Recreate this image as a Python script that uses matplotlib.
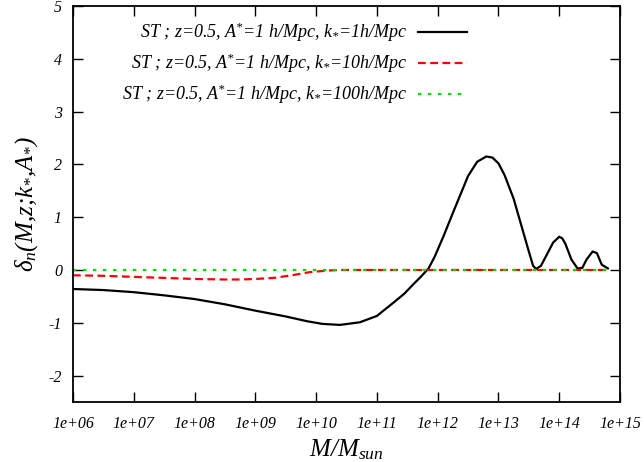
import numpy as np
import matplotlib
matplotlib.use("Agg")
import matplotlib.pyplot as plt
from matplotlib.ticker import FixedLocator, FixedFormatter

plt.rcParams['font.family'] = ['Liberation Serif', 'DejaVu Serif']
plt.rcParams['font.style'] = 'italic'
plt.rcParams['mathtext.fontset'] = 'custom'
plt.rcParams['mathtext.rm'] = 'Liberation Serif'
plt.rcParams['mathtext.it'] = 'Liberation Serif:italic'
plt.rcParams['mathtext.default'] = 'it'

# log10(M/Msun) samples and delta_n for each k_* value
logm_1 = [6.0, 6.5, 7.0, 7.5, 8.0, 8.5, 9.0, 9.5, 9.85, 10.1, 10.39, 10.72,
          11.0, 11.26, 11.45, 11.6, 11.73, 11.85, 11.95, 12.1, 12.25, 12.4,
          12.5, 12.65, 12.8, 12.9, 13.0, 13.1, 13.25, 13.4, 13.5, 13.57,
          13.62, 13.7, 13.8, 13.9, 14.0, 14.05, 14.1, 14.2, 14.3, 14.38,
          14.45, 14.55, 14.62, 14.7, 14.8]
delta_1 = [-0.36, -0.38, -0.42, -0.48, -0.55, -0.65, -0.77, -0.88, -0.97,
           -1.02, -1.04, -0.99, -0.87, -0.63, -0.45, -0.27, -0.12, 0.03,
           0.25, 0.65, 1.08, 1.50, 1.78, 2.05, 2.15, 2.13, 2.02, 1.80, 1.35,
           0.75, 0.35, 0.08, 0.02, 0.08, 0.30, 0.52, 0.63, 0.60, 0.50, 0.20,
           0.03, 0.04, 0.20, 0.35, 0.32, 0.10, 0.03]

logm_10 = [6.0, 6.5, 7.0, 7.5, 8.0, 8.5, 8.75, 9.0, 9.3, 9.6, 9.9, 10.2,
           10.4, 11.0, 12.0, 13.0, 14.0, 14.8]
delta_10 = [-0.10, -0.11, -0.13, -0.15, -0.17, -0.18, -0.18, -0.17, -0.15,
            -0.10, -0.04, -0.01, 0.0, 0.0, 0.0, 0.0, 0.0, 0.0]

logm_100 = [6.0, 8.0, 10.0, 12.0, 14.0, 14.8]
delta_100 = [0.0, 0.0, 0.0, 0.0, 0.0, 0.0]

labels = [r'ST ; z=0.5, A$^{*}$=1 h/Mpc, k$_{*}$=1h/Mpc',
          r'ST ; z=0.5, A$^{*}$=1 h/Mpc, k$_{*}$=10h/Mpc',
          r'ST ; z=0.5, A$^{*}$=1 h/Mpc, k$_{*}$=100h/Mpc']

xticks = [6, 7, 8, 9, 10, 11, 12, 13, 14, 15]
yticks = [-2, -1, 0, 1, 2, 3, 4, 5]

fig = plt.figure(figsize=(6.44, 4.62), dpi=100)
ax = fig.add_axes([73 / 644, 1 - 402 / 462, 547 / 644, 396 / 462])

ax.plot(10.0 ** np.array(logm_1), delta_1, color='black', lw=1.6,
        label=labels[0])
ax.plot(10.0 ** np.array(logm_10), delta_10, color='#ff0000', lw=1.6,
        dashes=(3.5, 2.0), label=labels[1])
ax.plot(10.0 ** np.array(logm_100), delta_100, color='#00e000', lw=1.6,
        dashes=(1.5, 3.0), label=labels[2])

ax.set_xscale('log')
ax.set_xlim(1e6, 1e15)
ax.set_ylim(-2.5, 5)

ax.xaxis.set_major_locator(FixedLocator([10.0 ** e for e in xticks]))
ax.xaxis.set_major_formatter(FixedFormatter(['1e+%02d' % e for e in xticks]))
ax.xaxis.set_minor_locator(FixedLocator([]))
ax.set_yticks(yticks)
ax.set_yticklabels([str(v) for v in yticks])

ax.tick_params(which='major', direction='in', length=7, width=1,
               top=True, right=True, labelsize=11.5, pad=8)
ax.tick_params(axis='x', pad=10)
for sp in ax.spines.values():
    sp.set_linewidth(1.3)

ax.set_xlabel(r'M/M$_{sun}$', fontsize=18, labelpad=4)
ax.set_ylabel(r'$\delta_{n}$(M,z;k$_{*}$,A$_{*}$)', fontsize=18, labelpad=6)

leg = ax.legend(loc='upper right', bbox_to_anchor=(0.72, 0.962),
                frameon=False, markerfirst=False, fontsize=13,
                handlelength=2.7, handletextpad=0.6, labelspacing=0.42,
                borderpad=0, borderaxespad=0)

fig.savefig('out.png', dpi=100)
